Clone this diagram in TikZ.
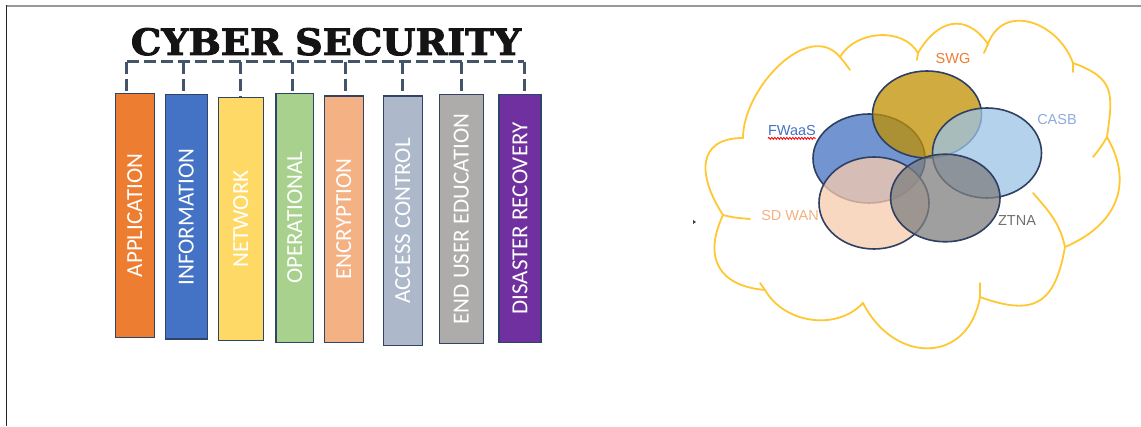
\documentclass[tikz,border=0pt]{standalone}
\usepackage{fontspec}
\usepackage{graphicx}
\setmainfont{Liberation Sans}
\newfontfamily\barfont{Carlito}
\newfontfamily\titlefont[BoldFeatures={FakeBold=2.5}]{DejaVu Serif}
\usetikzlibrary{decorations.pathmorphing}

% bar fills
\definecolor{cApp}{HTML}{ED7D31}
\definecolor{cInfo}{HTML}{4472C4}
\definecolor{cNet}{HTML}{FFD966}
\definecolor{cOps}{HTML}{A9D18E}
\definecolor{cEnc}{HTML}{F4B183}
\definecolor{cAcc}{HTML}{ADB9CA}
\definecolor{cEue}{HTML}{AEABAB}
\definecolor{cDr}{HTML}{7030A0}
\definecolor{barline}{HTML}{2F4466}
\definecolor{connline}{HTML}{44546A}
% cloud and overlapping services
\definecolor{cloudline}{HTML}{FFC833}
\definecolor{ovline}{HTML}{2E4062}
\definecolor{cSWG}{HTML}{BF9000}
\definecolor{cFW}{HTML}{4472C4}
\definecolor{cCASB}{HTML}{9DC3E6}
\definecolor{cSD}{HTML}{F8CBAD}
\definecolor{cZT}{HTML}{7F7F7F}
\definecolor{tSWG}{HTML}{ED7D31}
\definecolor{tCASB}{HTML}{8FAADC}
\definecolor{tFW}{HTML}{4472C4}
\definecolor{tSD}{HTML}{F4B183}
\definecolor{tZT}{HTML}{707070}

\begin{document}
\begin{tikzpicture}[x=1pt,y=1pt,
  bar/.style={draw=barline, line width=1.5pt, inner sep=0pt, anchor=center},
  barlabel/.style={rotate=90, text=white, inner sep=0pt,
    font=\barfont\fontsize{23}{23}\selectfont},
  conn/.style={draw=connline, line width=3pt, dash pattern=on 12pt off 5pt,
    line join=round},
  cloudedge/.style={draw=cloudline, line width=1.8pt, line cap=round},
  oval/.style={draw=ovline, line width=1.6pt, fill opacity=0.75},
  svc/.style={inner sep=0pt, font=\fontsize{14.5}{14.5}\selectfont}]

\useasboundingbox (0,0) rectangle (1141,426);
\fill[white] (0,0) rectangle (1141,426);

% page frame
\draw[color=black!40, line width=2pt] (5.5,420) -- (1141,420);
\draw[color=black!85, line width=1.5pt] (6.5,420.5) -- (6.5,0);

% title
\node[anchor=base west, inner sep=0pt, text=black!92] (title) at (130.7,371)
  {\resizebox{390pt}{27pt}{\titlefont\bfseries CYBER SECURITY}};

% pillars
\node[bar, fill=cApp,  minimum width=39pt, minimum height=244.4pt] (app)  at (134.8,210.5) {};
\node[bar, fill=cInfo, minimum width=42pt, minimum height=244.3pt] (info) at (186.3,209.15) {};
\node[bar, fill=cNet,  minimum width=45pt, minimum height=243.4pt] (net)  at (240.8,207) {};
\node[bar, fill=cOps,  minimum width=37.3pt, minimum height=249pt] (ops)  at (294.65,208.2) {};
\node[bar, fill=cEnc,  minimum width=39pt, minimum height=246.3pt] (enc)  at (343.8,206.85) {};
\node[bar, fill=cAcc,  minimum width=39pt, minimum height=249.7pt] (acc)  at (402.8,205.15) {};
\node[bar, fill=cEue,  minimum width=44pt, minimum height=248.6pt] (eue)  at (461.3,207) {};
\node[bar, fill=cDr,   minimum width=42pt, minimum height=247.6pt] (dr)   at (520,207.5) {};

\node[barlabel] (appL)  at (app.center)  {APPLICATION};
\node[barlabel] (infoL) at (info.center) {INFORMATION};
\node[barlabel] (netL)  at (net.center)  {NETWORK};
\node[barlabel] (opsL)  at (ops.center)  {OPERATIONAL};
\node[barlabel] (encL)  at (enc.center)  {ENCRYPTION};
\node[barlabel] (accL)  at (acc.center)  {ACCESS CONTROL};
\node[barlabel] (eueL)  at (eue.center)  {END USER EDUCATION};
\node[barlabel] (drL)   at (dr.center)   {DISASTER RECOVERY};

% dashed bus from the title down to every pillar
\coordinate (bus) at (0,364.3);
\draw[conn] ([xshift=-8pt]app.north |- bus) -- ([xshift=4pt]dr.north |- bus);
\foreach \n/\dx in {app/-8,info/-3,net/-0.8,ops/-2,enc/1.2,acc/-0.1,eue/-0.3,dr/4}
  \draw[conn] ([xshift=\dx pt]\n.north |- bus) -- ([xshift=\dx pt]\n.north);

% cloud outline
\coordinate (cA) at (743,288);
\coordinate (cI) at (840,369);
\coordinate (cH) at (918,373);
\coordinate (cG) at (988,382);
\coordinate (cJ) at (1073,363);
\coordinate (cK) at (1107,289);
\coordinate (cF) at (1065,179);
\coordinate (cE) at (980,129);
\coordinate (cD) at (863,123);
\coordinate (cC) at (765,136);
\coordinate (cB) at (723,211);
\draw[cloudedge]
  (cA) to[out=90,in=130] (cI)
       to[out=60,in=120] (cH)
       to[out=60,in=125,looseness=1.4] (cG)
       to[out=70,in=110,looseness=1.3] (cJ)
       to[out=-20,in=82,looseness=1.4] (cK)
       to[out=-60,in=23,looseness=1.2] (cF)
       to[out=-100,in=-20,looseness=1.5] (cE)
       to[out=-100,in=-63,looseness=1.5] (cD)
       to[out=-133,in=-60] (cC)
       to[out=175,in=-115,looseness=1.4] (cB)
       to[out=123,in=180,looseness=1.5] (cA);
% inner tails at the cusps
\draw[cloudedge] (cB) to[out=-15,in=175] (750,207);
\draw[cloudedge] (cI) to[out=-50,in=125] (850,356);
\draw[cloudedge] (cH) -- (917,366);
\draw[cloudedge] (cG) to[out=-110,in=70] (984,373);
\draw[cloudedge] (cJ) -- (1073,354);
\draw[cloudedge] (cK) to[out=-120,in=50] (1093,269);
\draw[cloudedge] (cF) to[out=102,in=-49] (1033,233);
\draw[cloudedge] (cE) -- (980,143);
\draw[cloudedge] (cC) -- (760,143);

% overlapping service ovals
\draw[oval, fill=cFW]   (869,267.5) ellipse [x radius=56pt, y radius=44.5pt];
\draw[oval, fill=cSWG]  (927,311.5) ellipse [x radius=54.5pt, y radius=43.5pt];
\draw[oval, fill=cCASB] (987,273)   ellipse [x radius=54.5pt, y radius=45pt];
\draw[oval, fill=cSD]   (874,223)   ellipse [x radius=55pt, y radius=46pt];
\draw[oval, fill=cZT]   (945.3,228) ellipse [x radius=54.7pt, y radius=43.8pt];

% service labels
\node[svc, text=tSWG]  (swg)  at (953,367) {SWG};
\node[svc, text=tCASB] (casb) at (1057,306) {CASB};
\node[svc, text=tFW]   (fw)   at (792,295) {FWaaS};
\node[svc, text=tSD]   (sd)   at (790,210) {SD WAN};
\node[svc, text=tZT]   (zt)   at (1017,205) {ZTNA};
\draw[red, line width=0.8pt, decorate,
  decoration={snake, amplitude=1pt, segment length=3pt}]
  ([yshift=-2pt]fw.south west) -- ([yshift=-2pt]fw.south east);

% small marker left of the cloud
\fill[black!75] (693,206) -- (696,204) -- (693,202) -- cycle;
\end{tikzpicture}
\end{document}
